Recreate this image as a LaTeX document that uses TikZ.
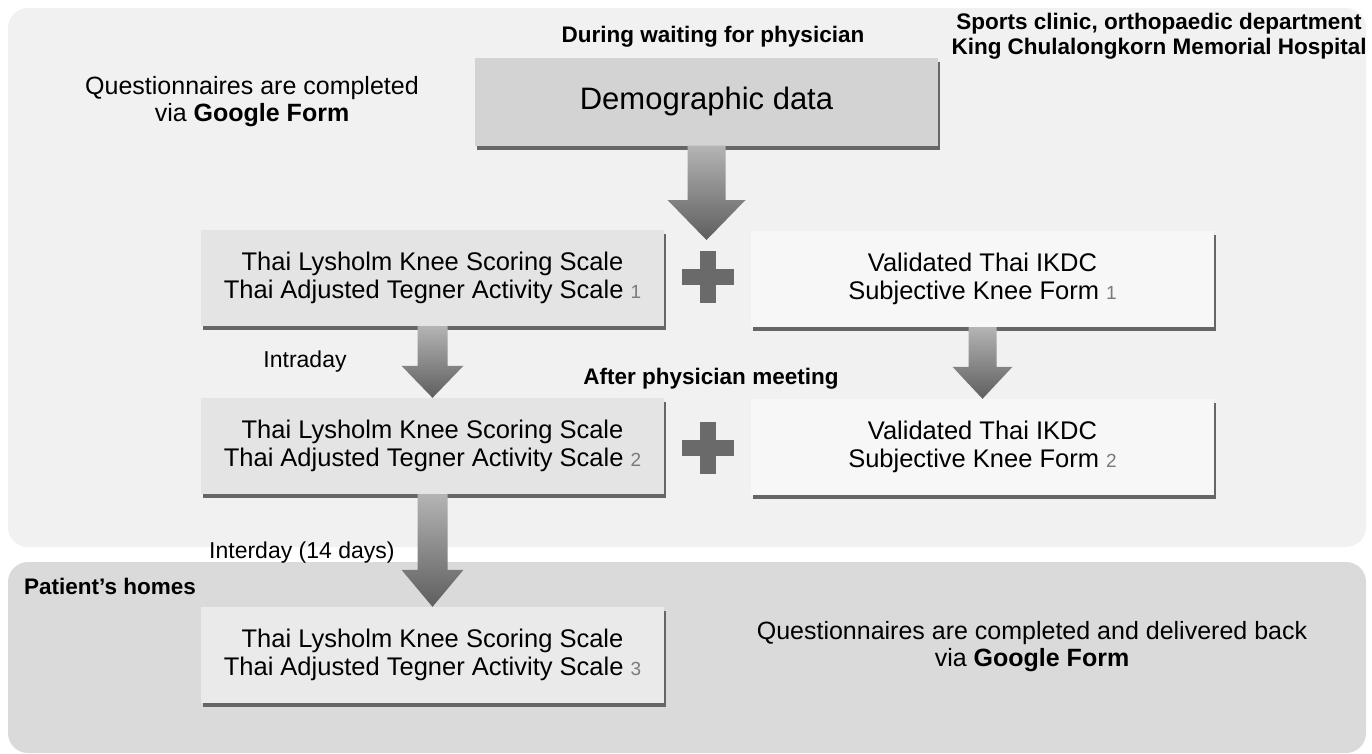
\documentclass[tikz,border=0pt]{standalone}
\usepackage{fontspec}
\setmainfont{Liberation Sans}
\usetikzlibrary{shadows,calc}
\definecolor{panelA}{HTML}{F1F1F1}
\definecolor{panelB}{HTML}{DADADA}
\definecolor{demofill}{HTML}{D3D3D3}
\definecolor{leftfill}{HTML}{E4E4E4}
\definecolor{rightfill}{HTML}{F7F7F7}
\definecolor{homefill}{HTML}{EAEAEA}
\definecolor{numgray}{HTML}{7A7A7A}
\definecolor{arrtop}{HTML}{B4B4B4}
\definecolor{arrbot}{HTML}{5E5E5E}
\definecolor{plusgray}{HTML}{6A6A6A}
\newcommand\blockarr[5]{%
  \path[arrshade] let \p1=(#1), \p2=(#2) in
    (\x1-#3pt,\y1) -- (\x1+#3pt,\y1) -- (\x1+#3pt,\y2+#5pt) -- (\x1+#4pt,\y2+#5pt)
    -- (\x1,\y2) -- (\x1-#4pt,\y2+#5pt) -- (\x1-#3pt,\y2+#5pt) -- cycle;}
\newcommand\plussign[1]{%
  \fill[plusgray] ($(#1)+(-26,-8)$) rectangle ($(#1)+(26,8)$);
  \fill[plusgray] ($(#1)+(-8,-26)$) rectangle ($(#1)+(8,26)$);}
\newcommand\nm[1]{{\color{numgray}\fontsize{19}{28}\selectfont #1}}
\begin{document}
\begin{tikzpicture}[x=1pt,y=-1pt,
  boxbase/.style={minimum width=463pt, minimum height=96pt, align=center, inner sep=0pt,
    font=\fontsize{25.5}{28}\selectfont,
    drop shadow={shadow xshift=2pt, shadow yshift=-4pt, fill=black!60, opacity=1}},
  demobox/.style={boxbase, fill=demofill, minimum height=88pt, font=\fontsize{31}{34}\selectfont},
  leftbox/.style={boxbase, fill=leftfill},
  rightbox/.style={boxbase, fill=rightfill},
  homebox/.style={boxbase, fill=homefill},
  boldlabel/.style={font=\bfseries\fontsize{22.5}{25}\selectfont, align=center, inner sep=0pt},
  plainlabel/.style={font=\fontsize{25}{27}\selectfont, align=center, inner sep=0pt},
  smalllabel/.style={font=\fontsize{23}{25}\selectfont, inner sep=0pt},
  arrshade/.style={top color=arrtop, bottom color=arrbot}]
\useasboundingbox (0,0) rectangle (1372,753);
\fill[white] (0,0) rectangle (1372,753);
\fill[panelA, rounded corners=20pt] (8,8) rectangle (1366,547);
\fill[panelB, rounded corners=20pt] (8,562) rectangle (1366,753);

% labels
\node[boldlabel] (lwait) at (713,37) {During waiting for physician};
\node[boldlabel] (lsports) at (1159,36) {Sports clinic, orthopaedic department\\King Chulalongkorn Memorial Hospital};
\node[plainlabel] (lq1) at (252,102) {Questionnaires are completed\\via \textbf{Google Form}};
\node[smalllabel] (lintra) at (305,362) {Intraday};
\node[boldlabel] (lafter) at (711,379) {After physician meeting};
\node[smalllabel, anchor=west] (linter) at (209,553) {Interday (14 days)};
\node[boldlabel, anchor=west] (lhome) at (24,586) {Patient's homes};
\node[plainlabel] (lq2) at (1032,647) {Questionnaires are completed and delivered back\\via \textbf{Google Form}};

% boxes
\node[demobox] (demo) at (706.5,101.5) {Demographic data};
\node[leftbox] (l1) at (432.5,278) {Thai Lysholm Knee Scoring Scale\\Thai Adjusted Tegner Activity Scale \nm{1}};
\node[rightbox] (r1) at (982.5,279) {Validated Thai IKDC\\Subjective Knee Form \nm{1}};
\node[leftbox] (l2) at (432.5,446) {Thai Lysholm Knee Scoring Scale\\Thai Adjusted Tegner Activity Scale \nm{2}};
\node[rightbox] (r2) at (982.5,447) {Validated Thai IKDC\\Subjective Knee Form \nm{2}};
\node[homebox] (l3) at (432.5,655) {Thai Lysholm Knee Scoring Scale\\Thai Adjusted Tegner Activity Scale \nm{3}};

% plus signs
\coordinate (p1) at (708,277);
\coordinate (p2) at (708,448);
\plussign{p1}
\plussign{p2}

% arrows
\coordinate (a1end) at (706.5,240);
\blockarr{demo.south}{a1end}{19}{39}{40}
\blockarr{l1.south}{l2.north}{15}{31}{32}
\blockarr{r1.south}{r2.north}{14}{30}{32}
\blockarr{l2.south}{l3.north}{15}{31}{37}
\end{tikzpicture}
\end{document}
